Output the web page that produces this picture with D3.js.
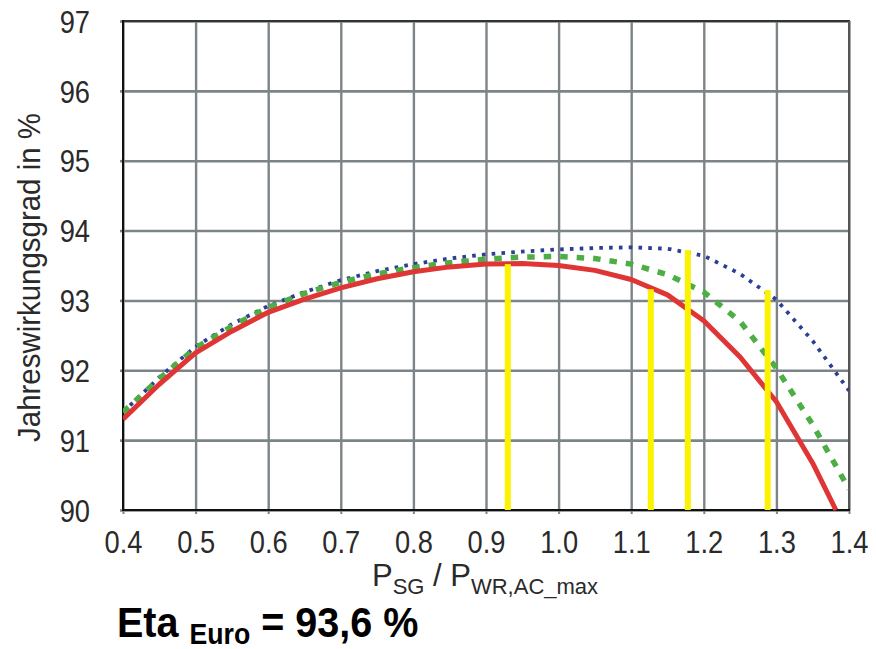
<!DOCTYPE html>
<html>
<head>
<meta charset="utf-8">
<script src="https://cdn.jsdelivr.net/npm/d3@7"></script>
<style>
  html, body { margin: 0; padding: 0; background: #fff; }
  svg text { font-family: "Liberation Sans Narrow", "Liberation Sans", "Open Sans", sans-serif; }
</style>
</head>
<body>
<svg id="chart" width="876" height="649"></svg>
<script>
// Ratio of PV generator power to inverter max AC power
const xTicks = [0.4, 0.5, 0.6, 0.7, 0.8, 0.9, 1.0, 1.1, 1.2, 1.3, 1.4];
const yTicks = [90, 91, 92, 93, 94, 95, 96, 97];

// Solid red curve
const redX = [0.40, 0.45, 0.50, 0.55, 0.60, 0.65, 0.70, 0.75, 0.80, 0.85, 0.90, 0.95, 1.00, 1.05, 1.10, 1.15, 1.20, 1.25, 1.30, 1.35, 1.382];
const redY = [91.30, 91.80, 92.25, 92.56, 92.83, 93.02, 93.18, 93.31, 93.41, 93.48, 93.52, 93.53, 93.50, 93.43, 93.30, 93.08, 92.71, 92.19, 91.55, 90.67, 90.00];

// Dashed green curve
const greenX = [0.40, 0.45, 0.50, 0.55, 0.60, 0.65, 0.70, 0.75, 0.80, 0.85, 0.90, 0.95, 1.00, 1.05, 1.10, 1.15, 1.20, 1.25, 1.30, 1.35, 1.40];
const greenY = [91.40, 91.88, 92.32, 92.63, 92.90, 93.10, 93.26, 93.38, 93.47, 93.54, 93.59, 93.62, 93.63, 93.60, 93.52, 93.37, 93.12, 92.70, 92.03, 91.22, 90.30];

// Dotted blue curve
const blueX = [0.40, 0.45, 0.50, 0.55, 0.60, 0.65, 0.70, 0.75, 0.80, 0.85, 0.90, 0.95, 1.00, 1.05, 1.10, 1.15, 1.20, 1.25, 1.30, 1.35, 1.40];
const blueY = [91.40, 91.90, 92.34, 92.66, 92.92, 93.12, 93.29, 93.42, 93.52, 93.60, 93.66, 93.70, 93.73, 93.75, 93.76, 93.74, 93.64, 93.38, 93.01, 92.42, 91.71];

// Yellow marker bars
const barX = [0.930, 1.127, 1.178, 1.288];
const barTop = [93.52, 93.16, 93.72, 93.15];

const svg = d3.select("#chart");
const plotLeft = 123, plotRight = 849, plotTop = 21, plotBottom = 510;

const x = d3.scaleLinear().domain([0.4, 1.4]).range([plotLeft, plotRight]);
const y = d3.scaleLinear().domain([90, 97]).range([plotBottom, plotTop]);

const gridColor = "#7d8487";
const labelFont = "'Liberation Sans Narrow', 'Liberation Sans', sans-serif";
const squeeze = 0.88; // horizontal condensing of label text

// Grid lines
svg.append("g")
  .attr("transform", `translate(0,${plotBottom})`)
  .call(d3.axisBottom(x).tickValues(xTicks).tickSize(-(plotBottom - plotTop)).tickFormat(""))
  .call(g => g.select(".domain").remove())
  .call(g => g.selectAll("line").attr("stroke", gridColor).attr("stroke-width", 2.4));

svg.append("g")
  .attr("transform", `translate(${plotLeft},0)`)
  .call(d3.axisLeft(y).tickValues(yTicks).tickSize(-(plotRight - plotLeft)).tickFormat(""))
  .call(g => g.select(".domain").remove())
  .call(g => g.selectAll("line").attr("stroke", gridColor).attr("stroke-width", 2.6));

// Short outer tick marks
svg.append("g")
  .attr("transform", `translate(0,${plotBottom})`)
  .call(d3.axisBottom(x).tickValues(xTicks).tickSize(4).tickFormat(""))
  .call(g => g.select(".domain").remove())
  .call(g => g.selectAll("line").attr("stroke", gridColor).attr("stroke-width", 2));
svg.append("g")
  .attr("transform", `translate(${plotLeft},0)`)
  .call(d3.axisLeft(y).tickValues(yTicks).tickSize(3).tickFormat(""))
  .call(g => g.select(".domain").remove())
  .call(g => g.selectAll("line").attr("stroke", gridColor).attr("stroke-width", 2.6));

// Plot frame
svg.append("line").attr("x1", plotLeft).attr("x2", plotRight + 1).attr("y1", plotTop).attr("y2", plotTop)
  .attr("stroke", "#333").attr("stroke-width", 2);
svg.append("line").attr("x1", plotRight).attr("x2", plotRight).attr("y1", plotTop).attr("y2", plotBottom)
  .attr("stroke", "#555").attr("stroke-width", 2);
svg.append("line").attr("x1", plotLeft).attr("x2", plotLeft).attr("y1", plotTop - 1).attr("y2", plotBottom + 1)
  .attr("stroke", "#111").attr("stroke-width", 2);
svg.append("line").attr("x1", plotLeft).attr("x2", plotRight + 1).attr("y1", plotBottom).attr("y2", plotBottom)
  .attr("stroke", "#111").attr("stroke-width", 2);

// Tick labels
svg.append("g")
  .attr("transform", `translate(0,${plotBottom})`)
  .call(d3.axisBottom(x).tickValues(xTicks).tickSize(0).tickPadding(0).tickFormat(d3.format(".1f")))
  .call(g => g.select(".domain").remove())
  .call(g => g.selectAll("text")
    .attr("dy", null).attr("y", 43)
    .attr("transform", `scale(${squeeze},1)`)
    .attr("fill", "#2a2a2a").attr("font-size", "31px")
    .attr("font-family", labelFont));

svg.append("g")
  .attr("transform", `translate(${plotLeft},0)`)
  .call(d3.axisLeft(y).tickValues(yTicks).tickSize(0).tickPadding(0).tickFormat(d3.format("d")))
  .call(g => g.select(".domain").remove())
  .call(g => g.selectAll("text")
    .attr("dy", "0.36em").attr("x", -33 / squeeze)
    .attr("transform", `scale(${squeeze},1)`)
    .attr("fill", "#2a2a2a").attr("font-size", "31px")
    .attr("font-family", labelFont));

// Curves, clipped to the plot area
svg.append("clipPath").attr("id", "plot-clip")
  .append("rect").attr("x", plotLeft).attr("y", plotTop)
  .attr("width", plotRight - plotLeft).attr("height", plotBottom - plotTop + 2);

const line = d3.line().x(d => x(d[0])).y(d => y(d[1]));
const plot = svg.append("g").attr("clip-path", "url(#plot-clip)");

plot.append("path")
  .datum(blueX.map((v, i) => [v, blueY[i]]))
  .attr("d", line).attr("fill", "none")
  .attr("stroke", "#2c3f93").attr("stroke-width", 3.8)
  .attr("stroke-dasharray", "3.6,6.2");

plot.append("path")
  .datum(greenX.map((v, i) => [v, greenY[i]]))
  .attr("d", line).attr("fill", "none")
  .attr("stroke", "#4cae44").attr("stroke-width", 5.5)
  .attr("stroke-dasharray", "7.5,9");

plot.append("path")
  .datum(redX.map((v, i) => [v, redY[i]]))
  .attr("d", line).attr("fill", "none")
  .attr("stroke", "#e03535").attr("stroke-width", 5)
  .attr("stroke-linejoin", "round");

// Yellow bars
plot.selectAll("rect.bar")
  .data(barX.map((v, i) => [v, barTop[i]]))
  .join("rect").attr("class", "bar")
  .attr("x", d => x(d[0]) - 3)
  .attr("width", 6)
  .attr("y", d => y(d[1]))
  .attr("height", d => y(90) - y(d[1]))
  .attr("fill", "#fbf200");

// Axis titles
svg.append("text")
  .attr("transform", `translate(40,${(plotTop + plotBottom) / 2 + 12}) rotate(-90) scale(0.95,1)`)
  .attr("text-anchor", "middle")
  .attr("fill", "#2a2a2a").attr("font-size", "31px")
  .text("Jahreswirkungsgrad in %");

const xt = svg.append("text")
  .attr("transform", "translate(485,586)")
  .attr("text-anchor", "middle")
  .attr("fill", "#2a2a2a").attr("font-size", "31px");
xt.append("tspan").text("P");
xt.append("tspan").attr("font-size", "22px").attr("dy", 8).text("SG");
xt.append("tspan").attr("dy", -8).text(" / P");
xt.append("tspan").attr("font-size", "22px").attr("dy", 8).text("WR,AC_max");

const eta = svg.append("text")
  .attr("transform", "translate(117,637) scale(0.92,1)")
  .attr("fill", "#000").attr("font-size", "43px").attr("font-weight", "bold");
eta.append("tspan").text("Eta ");
eta.append("tspan").attr("font-size", "29px").attr("dy", 7).text("Euro");
eta.append("tspan").attr("dy", -7).text(" = 93,6 %");
</script>
</body>
</html>
